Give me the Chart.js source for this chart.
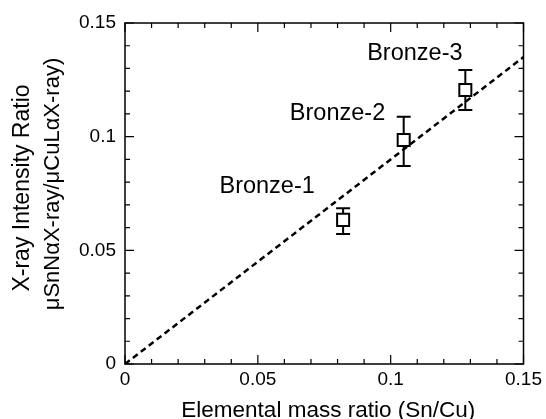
<!DOCTYPE html>
<html>
<head>
<meta charset="utf-8">
<script src="https://cdn.jsdelivr.net/npm/chart.js@4.4.0/dist/chart.umd.min.js"></script>
<style>
  html, body { margin: 0; padding: 0; background: #fff; }
  #wrap { width: 546px; height: 419px; position: relative; }
</style>
</head>
<body>
<div id="wrap"><canvas id="ratioChart"></canvas></div>
<script>
// measured samples
var sampleNames = ['Bronze-1', 'Bronze-2', 'Bronze-3'];
var massRatio = [0.0821, 0.1049, 0.1281];
var intensityRatio = [0.0634, 0.0985, 0.1205];
var errLow = [0.0572, 0.0871, 0.1117];
var errHigh = [0.0685, 0.1088, 0.1293];

// calibration line
var fitX = [0, 0.15];
var fitY = [0, 0.135];

// where the sample names sit (data units)
var nameX = [0.0535, 0.0800, 0.1091];
var nameY = [0.0754, 0.1073, 0.1337];

var xTicks = ['0', '0.05', '0.1', '0.15'];
var yTicks = ['0', '0.05', '0.1', '0.15'];

var xTitle = 'Elemental mass ratio (Sn/Cu)';
var yTitle = ['X-ray Intensity Ratio', 'μSnNαX-ray/μCuLαX-ray)'];

var FONT = "'Liberation Sans', Arial, Helvetica, sans-serif";

function isMajor(v) {
    return Math.abs(v / 0.05 - Math.round(v / 0.05)) < 1e-6;
}

var frameAndTicks = {
    id: 'frameAndTicks',
    beforeDatasetsDraw: function(chart) {
        var ctx = chart.ctx, a = chart.chartArea;
        var xs = chart.scales.x, ys = chart.scales.y;
        ctx.save();
        ctx.strokeStyle = '#000';
        ctx.lineWidth = 1.5;
        ctx.strokeRect(a.left, a.top, a.right - a.left, a.bottom - a.top);
        ctx.lineWidth = 1.2;
        ctx.beginPath();
        xs.ticks.forEach(function(t) {
            var px = xs.getPixelForValue(t.value);
            var len = isMajor(t.value) ? 9 : 5;
            ctx.moveTo(px, a.bottom); ctx.lineTo(px, a.bottom - len);
            ctx.moveTo(px, a.top); ctx.lineTo(px, a.top + len);
        });
        ys.ticks.forEach(function(t) {
            var py = ys.getPixelForValue(t.value);
            var len = isMajor(t.value) ? 9 : 5;
            ctx.moveTo(a.left, py); ctx.lineTo(a.left + len, py);
            ctx.moveTo(a.right, py); ctx.lineTo(a.right - len, py);
        });
        ctx.stroke();

        // error bars
        ctx.lineWidth = 2;
        for (var i = 0; i < massRatio.length; i++) {
            var cx = xs.getPixelForValue(massRatio[i]);
            var y1 = ys.getPixelForValue(errLow[i]);
            var y2 = ys.getPixelForValue(errHigh[i]);
            ctx.beginPath();
            ctx.moveTo(cx, y1); ctx.lineTo(cx, y2);
            ctx.moveTo(cx - 7, y1); ctx.lineTo(cx + 7, y1);
            ctx.moveTo(cx - 7, y2); ctx.lineTo(cx + 7, y2);
            ctx.stroke();
        }
        ctx.restore();
    },
    afterDatasetsDraw: function(chart) {
        var ctx = chart.ctx, a = chart.chartArea;
        var xs = chart.scales.x, ys = chart.scales.y;
        ctx.save();
        ctx.fillStyle = '#000';
        ctx.font = '23.5px ' + FONT;
        ctx.textAlign = 'center';
        ctx.textBaseline = 'alphabetic';
        for (var i = 0; i < sampleNames.length; i++) {
            ctx.fillText(sampleNames[i], xs.getPixelForValue(nameX[i]), ys.getPixelForValue(nameY[i]));
        }

        // axis titles
        ctx.font = '22.5px ' + FONT;
        ctx.fillText(xTitle, (a.left + a.right) / 2 + 4, 417);
        ctx.save();
        ctx.translate(28.5, 188);
        ctx.rotate(-Math.PI / 2);
        ctx.font = '23px ' + FONT;
        ctx.fillText(yTitle[0], 0, 0);
        ctx.restore();
        ctx.save();
        ctx.translate(59, 184);
        ctx.rotate(-Math.PI / 2);
        ctx.font = '22px ' + FONT;
        ctx.fillText(yTitle[1], 0, 0);
        ctx.restore();
        ctx.restore();
    }
};

var ctx = document.getElementById('ratioChart').getContext('2d');
var chart = new Chart(ctx, {
    type: 'scatter',
    data: {
        datasets: [{
            label: 'Samples',
            data: massRatio.map(function(x, i) { return {x: x, y: intensityRatio[i]}; }),
            pointStyle: 'rect',
            pointRadius: 8.5,
            pointBorderWidth: 2,
            pointBorderColor: '#000',
            pointBackgroundColor: '#fff'
        },
            {
                type: 'line',
                label: 'Fit',
                data: fitX.map(function(x, i) { return {x: x, y: fitY[i]}; }),
                borderColor: '#000',
                borderWidth: 2.5,
                borderDash: [6, 4],
                pointRadius: 0,
                fill: false
            }]
    },
    options: {
        responsive: true,
        maintainAspectRatio: false,
        animation: false,
        layout: { padding: { top: 23, right: 19, left: 0, bottom: 0 } },
        plugins: { legend: { display: false }, tooltip: { enabled: false } },
        scales: {
            x: {
                type: 'linear',
                min: 0,
                max: 0.15,
                grid: { display: false, drawTicks: false },
                border: { display: false },
                afterFit: function(s) { s.height = 55; },
                ticks: {
                    stepSize: 0.01,
                    autoSkip: false,
                    maxRotation: 0,
                    padding: 4,
                    color: '#000',
                    font: { family: FONT, size: 19 },
                    callback: function(v) {
                        return isMajor(v) ? xTicks[Math.round(v / 0.05)] : '';
                    }
                }
            },
            y: {
                type: 'linear',
                min: 0,
                max: 0.15,
                grid: { display: false, drawTicks: false },
                border: { display: false },
                afterFit: function(s) { s.width = 125; },
                ticks: {
                    stepSize: 0.01,
                    autoSkip: false,
                    padding: 9,
                    color: '#000',
                    font: { family: FONT, size: 19 },
                    callback: function(v) {
                        return isMajor(v) ? yTicks[Math.round(v / 0.05)] : '';
                    }
                }
            }
        }
    },
    plugins: [frameAndTicks]
});
</script>
</body>
</html>
